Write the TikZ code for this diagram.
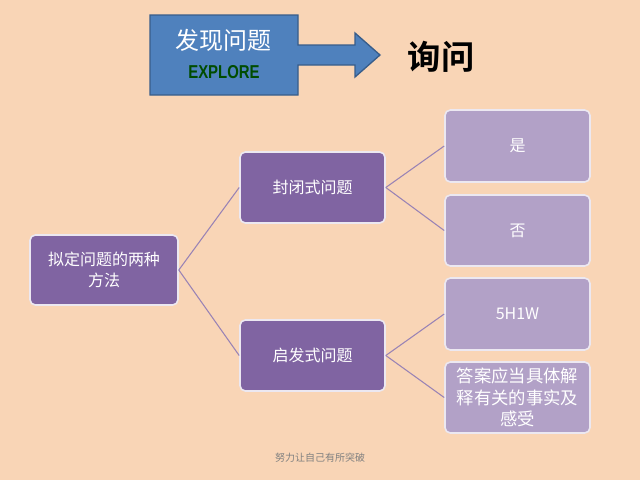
\documentclass[tikz,border=0pt]{standalone}
\usepackage{fontspec}
\setmainfont{Noto Sans CJK SC}
\newfontfamily\cjk{Noto Sans CJK SC}
\newfontfamily\cjkb{Noto Sans CJK SC Bold}
\newfontfamily\expl{Liberation Sans}
\definecolor{bg}{HTML}{F9D5B6}
\definecolor{dpur}{HTML}{8064A2}
\definecolor{lpur}{HTML}{B2A1C7}
\definecolor{blu}{HTML}{4F81BD}
\definecolor{blub}{HTML}{385D8A}
\tikzset{
 box/.style={draw=white!85!dpur,line width=1.2pt,rounded corners=4pt,fill=dpur,text=white,align=center,font=\cjk\fontsize{12}{16}\selectfont},
 lbox/.style={box,fill=lpur},
 conn/.style={draw=dpur!80!white,line width=0.8pt}
}
\begin{document}
\begin{tikzpicture}[x=0.75pt,y=-0.75pt]
\fill[bg] (0,0) rectangle (640,480);
\useasboundingbox (0,0) rectangle (640,480);
\draw[fill=blu,draw=blub,line width=1pt] (150,15) -- (298,15) -- (298,45) -- (355,45) -- (355,33) -- (380,55) -- (355,77) -- (355,65) -- (298,65) -- (298,95) -- (150,95) -- cycle;
\node[text=white,font=\cjk\fontsize{18}{20}\selectfont] (t1) at (223,40) {发现问题};
\node[text=green!30!black,font=\expl\bfseries\fontsize{14}{16}\selectfont,xscale=0.8] (t2) at (224,72) {EXPLORE};
\node[font=\cjkb\fontsize{25}{28}\selectfont] (ask) at (441,57) {询问};
\node[box,minimum width=148*0.75pt,minimum height=70*0.75pt] (root) at (104,270) {拟定问题的两种\\方法};
\node[box,minimum width=145*0.75pt,minimum height=71*0.75pt] (c) at (312.5,187.5) {封闭式问题};
\node[box,minimum width=145*0.75pt,minimum height=71*0.75pt] (o) at (312.5,355.5) {启发式问题};
\node[lbox,minimum width=145*0.75pt,minimum height=72*0.75pt] (y) at (517.5,146) {是};
\node[lbox,minimum width=145*0.75pt,minimum height=71*0.75pt] (n) at (517.5,230.5) {否};
\node[lbox,minimum width=145*0.75pt,minimum height=72*0.75pt] (h) at (517.5,314) {5H1W};
\node[lbox,minimum width=145*0.75pt,minimum height=71*0.75pt,inner sep=1pt,font=\cjk\fontsize{13}{16}\selectfont] (a) at (517.5,397.5) {答案应当具体解\\释有关的事实及\\感受};
\draw[conn] (root.east) -- (c.west);
\draw[conn] (root.east) -- (o.west);
\draw[conn] (c.east) -- (y.west);
\draw[conn] (c.east) -- (n.west);
\draw[conn] (o.east) -- (h.west);
\draw[conn] (o.east) -- (a.west);
\node[text=gray,font=\cjk\fontsize{7.5}{9}\selectfont] (f) at (320,458) {努力让自己有所突破};
\end{tikzpicture}
\end{document}
